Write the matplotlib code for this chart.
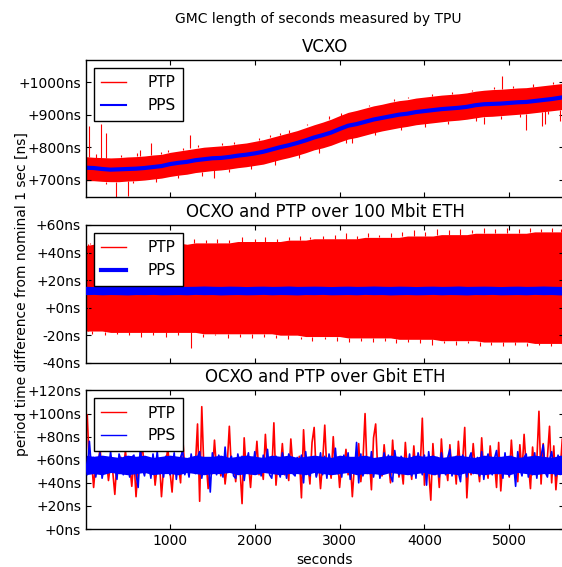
import numpy as np
import matplotlib
matplotlib.use("Agg")
import matplotlib.pyplot as plt
from matplotlib.lines import Line2D
from matplotlib.ticker import FuncFormatter

# --- data (ns) ---
# VCXO / 100 Mbit panels: envelope of the dense PTP band every 100 s
t_env = np.arange(0, 5701, 100)

vcxo_pps = [737, 736, 733, 731, 732, 733, 734, 736, 739, 742,
            748, 752, 755, 760, 763, 766, 767, 770, 774, 777,
            781, 786, 793, 800, 806, 813, 821, 830, 837, 845,
            856, 866, 871, 878, 885, 890, 895, 900, 903, 908,
            911, 914, 917, 919, 921, 924, 929, 932, 933, 934,
            936, 938, 939, 942, 945, 948, 952, 956]
vcxo_ptp_hi = [771, 769, 768, 767, 768, 770, 771, 773, 776, 778,
               784, 788, 792, 796, 800, 802, 804, 806, 810, 813,
               818, 823, 830, 837, 844, 851, 860, 869, 877, 886,
               897, 907, 913, 920, 927, 932, 938, 943, 946, 951,
               954, 957, 960, 962, 964, 967, 972, 975, 977, 978,
               980, 982, 983, 986, 989, 992, 995, 998]
vcxo_ptp_lo = [697, 697, 695, 694, 694, 696, 697, 699, 702, 705,
               710, 714, 717, 722, 725, 728, 730, 733, 737, 740,
               744, 748, 755, 762, 768, 775, 783, 792, 798, 806,
               816, 825, 830, 837, 844, 850, 855, 860, 864, 869,
               872, 875, 878, 881, 883, 886, 890, 894, 895, 897,
               899, 901, 903, 906, 909, 912, 915, 918]
# single outliers of the PTP trace
vcxo_spike_t = [45, 183, 242, 360, 508, 650, 773, 900, 1236, 1520,
                2050, 2300, 3150, 4700, 4915, 5200, 5390, 5420, 5600,
                130, 420, 610, 980, 1150, 1330, 1610, 1760, 2180, 2400,
                2620, 2880, 3020, 3350, 3640, 3810, 4090, 4330, 4560, 4820,
                5050, 5280, 5510,
                250, 560, 830, 1090, 1380, 1700, 1960, 2240, 2520, 2760,
                3080, 3420, 3720, 4010, 4280, 4610, 4900, 5130, 5460]
vcxo_spike_v = [865, 870, 844, 645, 650, 790, 813, 785, 839, 706,
                829, 845, 812, 872, 1018, 854, 865, 872, 882,
                778, 777, 782, 790, 797, 806, 812, 815, 838, 852,
                870, 895, 905, 930, 948, 953, 964, 970, 976, 984,
                988, 993, 1000,
                688, 689, 694, 704, 713, 724, 733, 745, 766, 782,
                812, 836, 852, 863, 871, 880, 888, 893, 903]

eth100_ptp_hi = [45, 46, 47, 47, 47, 47, 47, 47, 47, 47,
                 47, 47, 46, 47, 47, 47, 47, 47, 48, 48,
                 48, 48, 48, 48, 49, 49, 49, 50, 50, 50,
                 50, 50, 50, 51, 51, 51, 51, 51, 52, 52,
                 52, 52, 53, 53, 53, 53, 54, 54, 54, 54,
                 54, 54, 54, 55, 55, 55, 55, 55]
eth100_ptp_lo = [-17, -17, -17, -18, -18, -18, -18, -18, -18, -18,
                 -18, -18, -18, -18, -19, -19, -19, -19, -19, -19,
                 -19, -19, -19, -20, -20, -20, -21, -21, -21, -21,
                 -21, -22, -22, -22, -22, -22, -22, -23, -23, -23,
                 -23, -23, -24, -24, -24, -24, -24, -25, -25, -25,
                 -25, -25, -25, -26, -26, -26, -26, -26]
eth100_pps_hi = [15.5, 15.3, 15.6, 15.4, 15.5, 15.7, 15.4, 15.5, 15.6, 15.3,
                 15.5, 15.6, 15.4, 15.5, 15.7, 15.5, 15.4, 15.6, 15.5, 15.3,
                 15.5, 15.6, 15.4, 15.5, 15.7, 15.4, 15.5, 15.6, 15.5, 15.3,
                 15.5, 15.6, 15.4, 15.5, 15.7, 15.5, 15.4, 15.6, 15.5, 15.3,
                 15.5, 15.6, 15.4, 15.5, 15.7, 15.4, 15.5, 15.6, 15.5, 15.3,
                 15.5, 15.6, 15.4, 15.5, 15.7, 15.5, 15.4, 15.6]
eth100_pps_lo = [9.4, 9.6, 9.3, 9.5, 9.4, 9.2, 9.5, 9.4, 9.6, 9.3,
                 9.4, 9.5, 9.3, 9.6, 9.4, 9.5, 9.2, 9.4, 9.5, 9.3,
                 9.4, 9.6, 9.3, 9.5, 9.4, 9.2, 9.5, 9.4, 9.6, 9.3,
                 9.4, 9.5, 9.3, 9.6, 9.4, 9.5, 9.2, 9.4, 9.5, 9.3,
                 9.4, 9.6, 9.3, 9.5, 9.4, 9.2, 9.5, 9.4, 9.6, 9.3,
                 9.4, 9.5, 9.3, 9.6, 9.4, 9.5, 9.2, 9.4]
eth100_spike_t = [30, 60, 1150, 1280, 1430, 1560, 1700, 1850, 2000, 2120,
                  2260, 2400, 2530, 2650, 2800, 2950, 3080, 3200, 3330, 3470,
                  3600, 3730, 3880, 4010, 4150, 4290, 4420, 4560, 4700, 4830,
                  4970, 5110, 5240, 5380, 5500, 5610,
                  80, 230, 370, 520, 660, 800, 950, 1100, 1245, 1390,
                  1530, 1680, 1820, 1970, 2110, 2250, 2390, 2540, 2680, 2830,
                  2970, 3110, 3250, 3390, 3530, 3670, 3810, 3950, 4090, 4230,
                  4370, 4510, 4650, 4790, 4930, 5070, 5210, 5350, 5490, 5620]
eth100_spike_v = [46, 47, 49, 50, 49, 50, 49, 51, 50, 51,
                  50, 51, 52, 51, 52, 53, 54, 52, 54, 53,
                  54, 55, 56, 55, 57, 56, 57, 56, 58, 57,
                  58, 57, 58, 57, 58, 57,
                  -19, -20, -19, -20, -21, -20, -21, -20, -29, -21,
                  -20, -22, -21, -22, -21, -22, -23, -23, -24, -23,
                  -24, -25, -24, -25, -24, -26, -25, -26, -27, -26,
                  -27, -26, -28, -27, -28, -27, -28, -27, -28, -27]

# Gbit panel: dense PPS core every 100 s, individual samples every 25 s
gbit_core_hi = [64, 63, 64, 63, 62, 64, 63, 64, 62, 63,
                64, 63, 62, 64, 63, 63, 64, 62, 63, 64,
                63, 62, 64, 63, 64, 62, 63, 64, 63, 62,
                64, 63, 63, 64, 62, 63, 64, 63, 62, 64,
                63, 64, 62, 63, 64, 63, 62, 64, 63, 63,
                64, 62, 63, 64, 63, 62, 64, 63]
gbit_core_lo = [47, 48, 47, 49, 48, 47, 48, 49, 47, 48,
                48, 47, 49, 48, 47, 48, 48, 49, 47, 48,
                47, 49, 48, 47, 48, 48, 47, 49, 48, 47,
                48, 49, 47, 48, 48, 47, 49, 48, 47, 48,
                49, 47, 48, 48, 47, 49, 48, 47, 48, 48,
                47, 49, 48, 47, 48, 48, 47, 49]
t_gbit = np.arange(0, 5701, 25)
gbit_ptp = [85, 99, 52, 60, 36, 58, 49, 71, 47, 55,
            61, 42, 57, 50, 30, 59, 48, 62, 51, 68,
            49, 56, 37, 61, 28, 54, 59, 73, 48, 52,
            58, 46, 62, 38, 55, 60, 28, 53, 57, 70,
            50, 32, 61, 48, 56, 40, 80, 51, 58, 47,
            63, 49, 55, 91, 24, 106, 52, 60, 35, 57,
            48, 77, 51, 59, 46, 62, 39, 56, 89, 50,
            58, 41, 61, 53, 22, 79, 49, 57, 36, 62,
            52, 76, 47, 58, 43, 82, 51, 55, 48, 92,
            38, 60, 50, 74, 47, 56, 42, 78, 53, 59,
            49, 63, 27, 86, 52, 57, 39, 75, 88, 46,
            61, 35, 58, 90, 50, 55, 44, 80, 48, 62,
            36, 57, 51, 69, 47, 60, 28, 56, 53, 74,
            41, 59, 100, 48, 62, 34, 79, 91, 50, 57,
            46, 73, 52, 58, 40, 77, 49, 61, 45, 55,
            39, 75, 50, 60, 43, 72, 48, 57, 53, 96,
            38, 59, 51, 25, 74, 47, 62, 36, 78, 50,
            56, 42, 73, 49, 61, 39, 76, 52, 58, 88,
            27, 60, 47, 74, 51, 57, 41, 79, 49, 55,
            44, 72, 52, 58, 36, 75, 33, 60, 48, 56,
            45, 77, 50, 61, 41, 73, 49, 82, 53, 57,
            35, 71, 48, 59, 102, 39, 74, 51, 62, 89,
            40, 72, 34, 57, 50, 78, 37, 60, 52]
gbit_pps = [64, 47, 76, 52, 62, 45, 58, 66, 44, 55,
            61, 49, 67, 50, 54, 43, 65, 59, 47, 63,
            56, 45, 62, 64, 48, 36, 70, 53, 46, 61,
            58, 44, 65, 51, 67, 48, 57, 45, 63, 60,
            47, 52, 66, 43, 59, 62, 68, 47, 55, 45,
            65, 51, 48, 62, 67, 44, 56, 50, 61, 32,
            66, 53, 47, 64, 58, 45, 71, 49, 60, 63,
            46, 44, 65, 55, 63, 42, 57, 66, 48, 52,
            67, 49, 58, 46, 64, 53, 69, 47, 44, 61,
            63, 51, 45, 66, 56, 44, 65, 60, 48, 46,
            62, 55, 64, 40, 67, 49, 46, 58, 61, 45,
            53, 66, 47, 63, 44, 65, 57, 49, 70, 48,
            59, 45, 64, 52, 66, 43, 60, 49, 75, 40,
            65, 46, 56, 62, 48, 67, 45, 58, 61, 44,
            53, 66, 49, 64, 46, 41, 68, 55, 47, 63,
            60, 48, 52, 65, 46, 63, 44, 66, 57, 47,
            64, 38, 67, 51, 63, 48, 59, 45, 66, 54,
            47, 62, 69, 46, 56, 63, 49, 41, 64, 58,
            45, 61, 66, 48, 54, 62, 46, 67, 43, 59,
            65, 52, 47, 61, 68, 48, 57, 44, 66, 50,
            46, 63, 58, 37, 67, 53, 46, 62, 65, 45,
            56, 47, 66, 44, 61, 63, 73, 49, 45, 60,
            67, 52, 46, 64, 55, 49, 65, 46, 63]

plt.rcParams.update({
    "font.family": "DejaVu Sans",
    "font.size": 10,
    "xtick.direction": "in",
    "ytick.direction": "in",
    "xtick.top": True,
    "ytick.right": True,
    "xtick.major.size": 3.5,
    "ytick.major.size": 3.5,
    "axes.linewidth": 1.0,
})

fig = plt.figure(figsize=(5.62, 5.67), dpi=100)
left, width = 0.153, 0.8505
ax1 = fig.add_axes([left, 0.6526, width, 0.2416])
ax2 = fig.add_axes([left, 0.3603, width, 0.2429])
ax3 = fig.add_axes([left, 0.0670, width, 0.2443])

fmt = FuncFormatter(lambda v, pos: "%+dns" % v)


def spikes(ax, t, lo, hi, st, sv):
    # outliers drawn from the edge of the band out to the sample value
    idx = np.minimum(np.searchsorted(t, st), len(t) - 1)
    lo = np.asarray(lo, float)[idx]
    hi = np.asarray(hi, float)[idx]
    sv = np.asarray(sv, float)
    base = np.where(sv > hi, hi, lo)
    ax.vlines(st, base, sv, color="r", lw=0.8)


# VCXO
ax1.fill_between(t_env, vcxo_ptp_lo, vcxo_ptp_hi, color="r", lw=0)
spikes(ax1, t_env, vcxo_ptp_lo, vcxo_ptp_hi, vcxo_spike_t, vcxo_spike_v)
ax1.plot(t_env, vcxo_pps, color="b", lw=3)
ax1.set_ylim(647, 1068)
ax1.set_yticks([700, 800, 900, 1000])
ax1.set_title("VCXO", fontsize=12)
h1 = [Line2D([], [], color="r", lw=1), Line2D([], [], color="b", lw=1.5)]

# 100 Mbit
ax2.fill_between(t_env, eth100_ptp_lo, eth100_ptp_hi, color="r", lw=0)
spikes(ax2, t_env, eth100_ptp_lo, eth100_ptp_hi, eth100_spike_t, eth100_spike_v)
ax2.fill_between(t_env, eth100_pps_lo, eth100_pps_hi, color="b", lw=0, zorder=3)
ax2.set_ylim(-40, 60)
ax2.set_yticks(range(-40, 61, 20))
ax2.set_title("OCXO and PTP over 100 Mbit ETH", fontsize=12)
h2 = [Line2D([], [], color="r", lw=1), Line2D([], [], color="b", lw=3)]

# Gbit
ax3.plot(t_gbit, gbit_ptp, color="r", lw=1.2)
ax3.fill_between(t_env, gbit_core_lo, gbit_core_hi, color="b", lw=0, zorder=2.5)
ax3.plot(t_gbit, gbit_pps, color="b", lw=1.2, zorder=2.6)
ax3.set_ylim(0, 120)
ax3.set_yticks(range(0, 121, 20))
ax3.set_title("OCXO and PTP over Gbit ETH", fontsize=12)
h3 = [Line2D([], [], color="r", lw=1), Line2D([], [], color="b", lw=1)]

for ax, h in ((ax1, h1), (ax2, h2), (ax3, h3)):
    ax.set_xlim(10, 5645)
    ax.set_xticks([1000, 2000, 3000, 4000, 5000])
    ax.yaxis.set_major_formatter(fmt)
    leg = ax.legend(h, ["PTP", "PPS"], loc="upper left", fancybox=False,
                    framealpha=1, edgecolor="k", borderpad=0.5,
                    labelspacing=0.5, handlelength=1.6, handletextpad=1.4,
                    borderaxespad=0.5, fontsize=11)
    leg.get_frame().set_linewidth(1.0)
    leg.set_zorder(5)
ax1.tick_params(labelbottom=False)
ax2.tick_params(labelbottom=False)

ax3.set_xlabel("seconds")
fig.text(0.566, 0.966, "GMC length of seconds measured by TPU",
         ha="center", va="center", fontsize=10)
fig.text(0.04, 0.482, "period time difference from nominal 1 sec [ns]",
         rotation=90, ha="center", va="center")

fig.savefig("out.png", dpi=100)
